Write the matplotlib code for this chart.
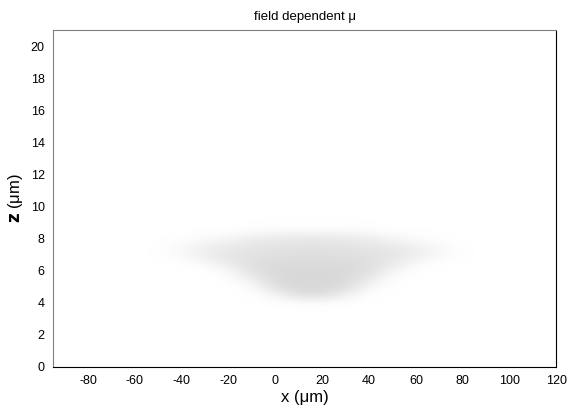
import matplotlib
matplotlib.use("Agg")
import matplotlib.pyplot as plt
import numpy as np
from matplotlib.colors import LinearSegmentedColormap

plt.rcParams['font.family'] = ['Liberation Sans', 'DejaVu Sans']
plt.rcParams['axes.unicode_minus'] = False

# grid of the shaded field (0 = white, 1 = darkest grey)
x_cols = [-50, -40, -30, -20, -10, 0, 10, 20, 30, 40, 50, 60, 70, 80]
z_rows = [3.0, 3.5, 4.0, 4.5, 5.0, 5.5, 6.0, 6.5, 7.0, 7.5, 8.0, 8.5, 9.0]
shade = [
    [0, 0, 0, 0, 0, 0, 0, 0, 0, 0, 0, 0, 0, 0],
    [0, 0, 0, 0, 0, 0, 0, 0, 0, 0, 0, 0, 0, 0],
    [0, 0, 0, 0, 0, 0, 0.05, 0.05, 0, 0, 0, 0, 0, 0],
    [0, 0, 0, 0, 0, 0.25, 0.8, 0.8, 0.35, 0, 0, 0, 0, 0],
    [0, 0, 0, 0, 0.05, 0.8, 0.95, 0.95, 0.85, 0.15, 0, 0, 0, 0],
    [0, 0, 0, 0, 0.45, 0.92, 0.95, 0.95, 0.92, 0.55, 0, 0, 0, 0],
    [0, 0, 0, 0.15, 0.75, 0.9, 0.92, 0.92, 0.9, 0.75, 0.25, 0, 0, 0],
    [0, 0, 0.15, 0.55, 0.75, 0.85, 0.85, 0.85, 0.85, 0.75, 0.55, 0.15, 0, 0],
    [0, 0.15, 0.45, 0.6, 0.7, 0.75, 0.78, 0.78, 0.75, 0.72, 0.6, 0.45, 0.15, 0],
    [0, 0.15, 0.35, 0.5, 0.6, 0.65, 0.68, 0.68, 0.65, 0.6, 0.5, 0.35, 0.15, 0],
    [0, 0, 0.1, 0.25, 0.4, 0.5, 0.55, 0.55, 0.5, 0.4, 0.25, 0.1, 0, 0],
    [0, 0, 0, 0, 0.05, 0.1, 0.1, 0.1, 0.1, 0.05, 0, 0, 0, 0],
    [0, 0, 0, 0, 0, 0, 0, 0, 0, 0, 0, 0, 0, 0],
]
x_ticks = [-80, -60, -40, -20, 0, 20, 40, 60, 80, 100, 120]
z_ticks = [0, 2, 4, 6, 8, 10, 12, 14, 16, 18, 20]

fig = plt.figure(figsize=(5.72, 4.13), dpi=100)
ax = fig.add_axes([0.0927, 0.1114, 0.880, 0.816])

cmap = LinearSegmentedColormap.from_list("grey", ["#ffffff", "#d6d6d6"])
dx = (x_cols[1] - x_cols[0]) / 2
dz = (z_rows[1] - z_rows[0]) / 2
ax.imshow(np.array(shade), cmap=cmap, vmin=0, vmax=1, origin='lower',
          extent=[x_cols[0] - dx, x_cols[-1] + dx, z_rows[0] - dz, z_rows[-1] + dz],
          aspect='auto', interpolation='bicubic')

ax.set_xlim(-95, 120)
ax.set_ylim(0, 21)
ax.set_xticks(x_ticks)
ax.set_yticks(z_ticks)
ax.tick_params(length=0, labelsize=9, pad=6)

ax.spines['top'].set_color('#808080')
ax.spines['left'].set_color('#808080')
ax.spines['right'].set_color('black')
ax.spines['bottom'].set_color('black')

ax.set_xlabel('x (\u03bcm)', fontsize=12, labelpad=2)
ax.set_ylabel('$\\mathbf{z}$ (\u03bcm)', fontsize=12, labelpad=4)
ax.set_title('field dependent \u03bc', fontsize=9.5, pad=7)

fig.savefig('out.png', dpi=100)
